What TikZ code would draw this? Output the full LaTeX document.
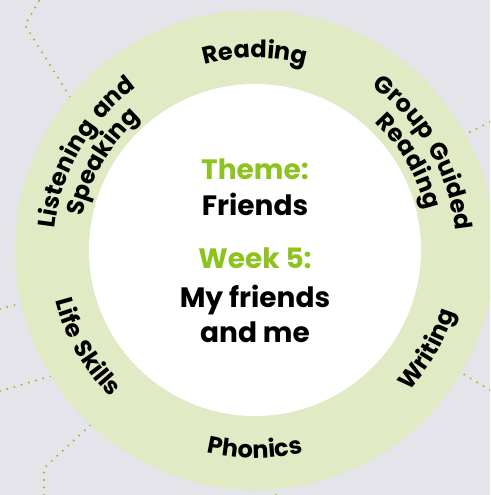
\documentclass[tikz,border=0pt]{standalone}
\usepackage{fontspec}
\setmainfont{Poppins}
\usetikzlibrary{decorations.text}
\definecolor{bggray}{HTML}{E4E4EA}
\definecolor{ringgreen}{HTML}{E0EAC4}
\definecolor{leafgreen}{HTML}{8DC21F}
\newcommand\labfont{\fontsize{24}{28}\selectfont\bfseries}
\begin{document}
\begin{tikzpicture}[x=1pt,y=1pt,
  dots/.style={leafgreen,line width=2.2pt,line cap=round,dash pattern=on 0pt off 7.5pt},
  ringtext/.style={decorate,decoration={text along path,text align=center}},
  midtext/.style={font=\fontsize{28}{32}\selectfont\bfseries,anchor=base}]
  \useasboundingbox (-255,-245) rectangle (235,250);
  \clip (-255,-245) rectangle (235,250);
  \fill[bggray] (-255,-245) rectangle (235,250);

  \draw[dots] (-216,249) -- (-230,225) -- (-175,137);
  \draw[dots] (235,128) -- (205,113);
  \draw[dots] (-255,-59) -- (-225,-51);
  \draw[dots] (-255,-141) -- (-197,-124);
  \draw[dots] (-211,-245) -- (-211,-218) -- (-160,-171);
  \draw[dots] (235,-140) -- (200,-119);
  \draw[dots] (21,-245) -- (21,-230);

  \fill[ringgreen] (0,0) circle (240);
  \fill[white] (0,0) circle (166);

  \path[ringtext,decoration={text={|\labfont|Reading}}] (125:192) arc[start angle=125,end angle=55,radius=192];
  \path[ringtext,decoration={text={|\labfont|Group{\rule{7pt}{0pt}}Guided}}] (75:201) arc[start angle=75,end angle=-15,radius=201];
  \path[ringtext,decoration={text={|\labfont|Reading}}] (75:175) arc[start angle=75,end angle=-15,radius=175];
  \path[ringtext,decoration={text={|\labfont|Listening{\rule{7pt}{0pt}}and}}] (195:201) arc[start angle=195,end angle=105,radius=201];
  \path[ringtext,decoration={text={|\labfont|Speaking}}] (195:175) arc[start angle=195,end angle=105,radius=175];
  \path[ringtext,decoration={text={|\labfont|Writing}}] (-65:209) arc[start angle=-65,end angle=5,radius=209];
  \path[ringtext,decoration={text={|\labfont|Phonics}}] (-125:208) arc[start angle=-125,end angle=-55,radius=208];
  \path[ringtext,decoration={text={|\labfont|Life{\rule{7pt}{0pt}}Skills}}] (175:206) arc[start angle=175,end angle=245,radius=206];

  \node[midtext,text=leafgreen] (theme) at (0,70) {Theme:};
  \node[midtext] (friends) at (0,34) {Friends};
  \node[midtext,text=leafgreen] (week) at (0,-19) {Week 5:};
  \node[midtext] (myfriends) at (0,-57) {My friends};
  \node[midtext] (andme) at (0,-92) {and me};
\end{tikzpicture}
\end{document}
